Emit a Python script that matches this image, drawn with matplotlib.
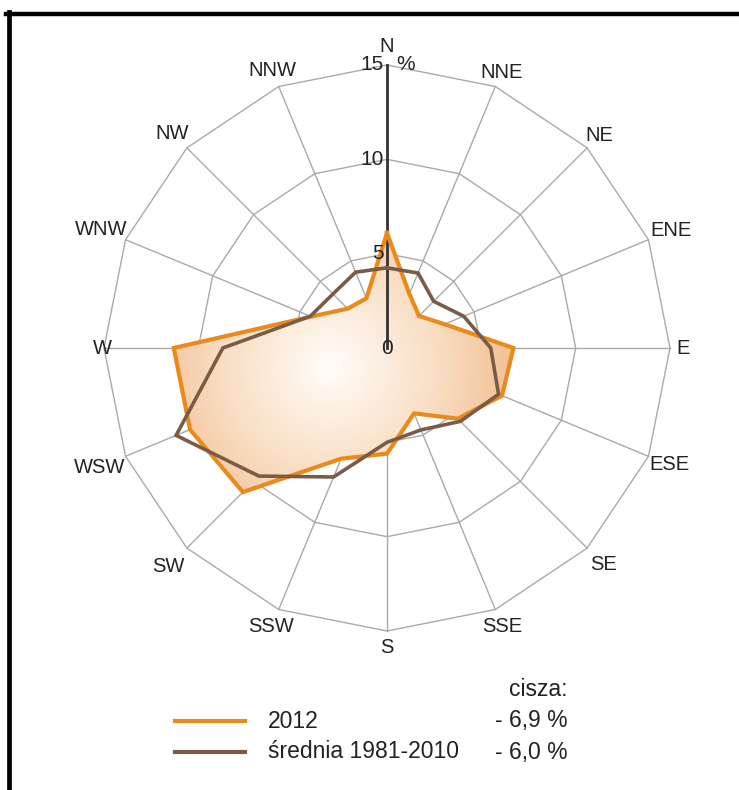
import numpy as np
import matplotlib
matplotlib.use('Agg')
from matplotlib import pyplot as plt
from matplotlib.colors import LinearSegmentedColormap
from matplotlib.lines import Line2D

plt.rcParams['font.family'] = ['Liberation Sans', 'DejaVu Sans']

# wind rose data (% of observations per direction)
directions = ['N', 'NNE', 'NE', 'ENE', 'E', 'ESE', 'SE', 'SSE',
              'S', 'SSW', 'SW', 'WSW', 'W', 'WNW', 'NW', 'NNW']
freq_2012 = [6.1, 3.1, 2.4, 3.3, 6.7, 6.6, 5.3, 3.75,
             5.6, 6.35, 10.8, 11.3, 11.3, 4.35, 2.95, 2.85]
freq_avg = [4.25, 4.3, 3.5, 4.4, 5.5, 6.4, 5.5, 4.7,
            5.0, 7.4, 9.6, 12.1, 8.7, 4.4, 4.05, 4.35]
series_names = ['2012', 'średnia 1981-2010']
calm_values = ['6,9', '6,0']
rings = [5, 10, 15]
ring_labels = ['5', '10', '15']

# label distance from centre (in data units) for each direction
label_r = [16.0, 15.8, 15.9, 16.3, 15.7, 16.2, 16.2, 16.0,
           15.9, 16.0, 16.4, 16.5, 15.1, 16.4, 16.1, 15.9]

orange = '#ea8a1c'
brown = '#7a5c46'
grid_col = '#a9a9a9'
txt_col = '#222222'

fig = plt.figure(figsize=(7.39, 7.9), dpi=100)
ax = fig.add_axes([104 / 739, 159 / 790, 566 / 739, 566 / 790], projection='polar')
ax.set_theta_zero_location('N')
ax.set_theta_direction(-1)
ax.set_ylim(0, 15)
ax.grid(False)
ax.set_xticks([])
ax.set_yticks([])
ax.spines['polar'].set_visible(False)
ax.patch.set_alpha(0)

angles = np.deg2rad(np.arange(len(directions)) * 22.5)
a_closed = np.append(angles, angles[0])

# polygonal grid
for r in rings:
    ax.plot(a_closed, [r] * len(a_closed), color=grid_col, lw=1.0, zorder=1, clip_on=False)
for a in angles[1:]:
    ax.plot([a, a], [0, rings[-1]], color=grid_col, lw=1.0, zorder=1, clip_on=False)

# radial gradient fill of 2012 polygon
th = np.linspace(0, 2 * np.pi, 361)
rr = np.linspace(0, 15, 121)
TH, RR = np.meshgrid(th, rr)
dist = np.hypot(RR * np.sin(TH) + 3.0, RR * np.cos(TH) + 1.0)
cmap = LinearSegmentedColormap.from_list('rose', ['#fffdfa', '#f8dcc0', '#efb07a'])
mesh = ax.pcolormesh(TH, RR, dist, cmap=cmap, vmin=0, vmax=12, shading='gouraud',
                     alpha=0.85, zorder=2)
clip = ax.fill(a_closed, np.append(freq_2012, freq_2012[0]),
               facecolor='none', edgecolor='none')[0]
mesh.set_clip_path(clip)

# axis line on N
ax.plot([0, 0], [0, rings[-1]], color='#333333', lw=2.0, zorder=3, clip_on=False)

ax.plot(a_closed, np.append(freq_2012, freq_2012[0]), color=orange, lw=3.0, zorder=4,
        solid_joinstyle='miter')
ax.plot(a_closed, np.append(freq_avg, freq_avg[0]), color=brown, lw=2.6, zorder=5,
        solid_joinstyle='miter')

# direction labels
for a, name, r in zip(angles, directions, label_r):
    ax.text(a, r, name, ha='center', va='center', fontsize=14.5, color=txt_col)

# ring values
ax.text(0, 0, '0', ha='center', va='center', fontsize=15, color=txt_col, zorder=6)
for r, lab in zip(rings, ring_labels):
    ax.annotate(lab, xy=(0, r), xytext=(-3, 0), textcoords='offset pixels',
                ha='right', va='center', fontsize=15, color=txt_col, zorder=6)
ax.annotate('%', xy=(0, rings[-1]), xytext=(9, 0), textcoords='offset pixels',
            ha='left', va='center', fontsize=15, color=txt_col)

# legend
leg_y = [1 - 721 / 790, 1 - 752 / 790]
fig.text(568 / 739, 1 - 690 / 790, 'cisza:', ha='right', va='center', fontsize=16.5, color=txt_col)
for y, col, name, calm in zip(leg_y, [orange, brown], series_names, calm_values):
    fig.add_artist(Line2D([175 / 739, 245 / 739], [y, y], color=col, lw=3.0,
                          transform=fig.transFigure))
    fig.text(268 / 739, y, name, ha='left', va='center', fontsize=16.5, color=txt_col)
    fig.text(568 / 739, y, '- ' + calm + ' %', ha='right', va='center', fontsize=16.5,
             color=txt_col)

# frame (top and left only)
fig.add_artist(Line2D([6 / 739, 1], [1 - 14 / 790, 1 - 14 / 790], color='black', lw=3.2,
                      transform=fig.transFigure))
fig.add_artist(Line2D([8.5 / 739, 8.5 / 739], [0, 1 - 12 / 790], color='black', lw=3.4,
                      transform=fig.transFigure))

fig.savefig('out.png', dpi=100)
